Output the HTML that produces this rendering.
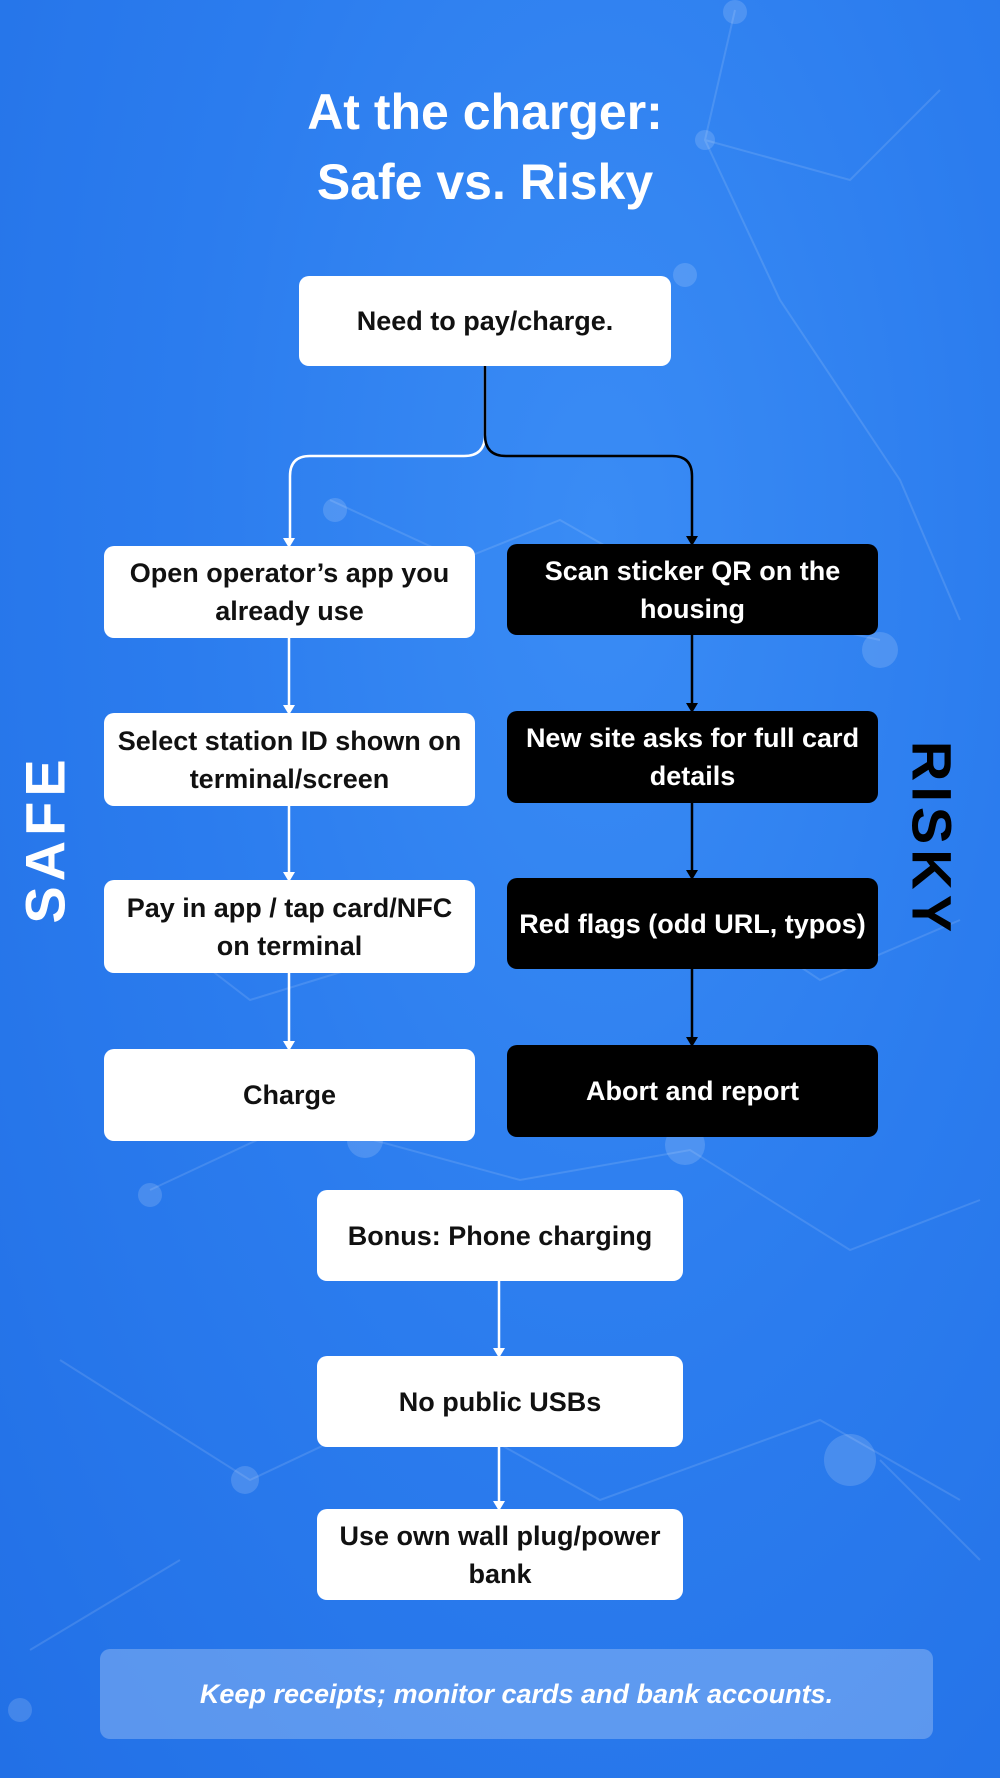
<!DOCTYPE html>
<html><head><meta charset="utf-8"><style>
body{margin:0;width:1000px;height:1778px;overflow:hidden;font-family:"Liberation Sans",sans-serif;}
.bg{position:absolute;left:0;top:0;width:1000px;height:1778px;background:radial-gradient(ellipse at 60% 30%,#3a8cf5 0%,#2b7cee 50%,#2270e6 100%);}
.t{position:absolute;left:0;width:970px;text-align:center;color:#fff;font-weight:bold;font-size:50px;}
.b{position:absolute;display:flex;align-items:center;justify-content:center;text-align:center;font-weight:bold;font-size:27px;line-height:38px;border-radius:10px;box-sizing:border-box;padding:0 6px;}
.w{background:#fff;color:#111;}
.k{background:#000;color:#fff;}
.v{position:absolute;color:#fff;font-weight:bold;font-size:56px;letter-spacing:5px;white-space:nowrap;}
</style></head><body>
<div class="bg"></div>
<svg style="position:absolute;left:0;top:0" width="1000" height="1778">
<g stroke="#ffffff" stroke-opacity="0.12" stroke-width="2" fill="none">
<path d="M735 10 L705 140 L780 300 L900 480 L960 620 M705 140 L850 180 L940 90 M330 500 L460 560 L560 520 L700 600 L880 640 M150 1190 L300 1120 L520 1180 L690 1150 L850 1250 L980 1200 M60 1360 L250 1480 L420 1400 L600 1500 L820 1420 L960 1500 M30 1650 L180 1560 M880 1460 L980 1560 M120 900 L250 1000 L380 960 M700 900 L820 980 L960 920"/>
</g>
<g fill="#ffffff" fill-opacity="0.15"><circle cx="735" cy="12" r="12"/><circle cx="705" cy="140" r="10"/><circle cx="685" cy="275" r="12"/><circle cx="880" cy="650" r="18"/><circle cx="150" cy="1195" r="12"/><circle cx="365" cy="1140" r="18"/><circle cx="850" cy="1460" r="26"/><circle cx="245" cy="1480" r="14"/><circle cx="685" cy="1145" r="20"/><circle cx="20" cy="1710" r="12"/><circle cx="335" cy="510" r="12"/></g>
<g stroke="#fff" stroke-width="2.5" fill="none">
<path d="M485 366 V435 Q485 456 464 456 H310 Q290 456 290 476 V540"/>
<path d="M289 638 V707 M289 806 V874 M289 973 V1043 M499 1281 V1350 M499 1447 V1503"/>
</g>
<g fill="#fff"><path d="M283 538 L289 548 L295 538Z M283 705 L289 715 L295 705Z M283 872 L289 882 L295 872Z M283 1041 L289 1051 L295 1041Z M493 1348 L499 1358 L505 1348Z M493 1501 L499 1511 L505 1501Z"/></g>
<g stroke="#000" stroke-width="2.5" fill="none">
<path d="M485 366 V435 Q485 456 506 456 H672 Q692 456 692 476 V538"/>
<path d="M692 635 V705 M692 803 V872 M692 969 V1039"/>
</g>
<g fill="#000"><path d="M686 536 L692 546 L698 536Z M686 703 L692 713 L698 703Z M686 870 L692 880 L698 870Z M686 1037 L692 1047 L698 1037Z"/></g>
</svg>
<div class="t" style="top:83px">At the charger:</div>
<div class="t" style="top:153px">Safe vs. Risky</div>
<div class="b w" style="left:299px;top:276px;width:372px;height:90px">Need to pay/charge.</div>
<div class="b w" style="left:104px;top:546px;width:371px;height:92px">Open operator’s app you already use</div>
<div class="b w" style="left:104px;top:713px;width:371px;height:93px">Select station ID shown on terminal/screen</div>
<div class="b w" style="left:104px;top:880px;width:371px;height:93px">Pay in app / tap card/NFC on terminal</div>
<div class="b w" style="left:104px;top:1049px;width:371px;height:92px">Charge</div>
<div class="b k" style="left:507px;top:544px;width:371px;height:91px">Scan sticker QR on the housing</div>
<div class="b k" style="left:507px;top:711px;width:371px;height:92px">New site asks for full card details</div>
<div class="b k" style="left:507px;top:878px;width:371px;height:91px">Red flags (odd URL, typos)</div>
<div class="b k" style="left:507px;top:1045px;width:371px;height:92px">Abort and report</div>
<div class="b w" style="left:317px;top:1190px;width:366px;height:91px">Bonus: Phone charging</div>
<div class="b w" style="left:317px;top:1356px;width:366px;height:91px">No public USBs</div>
<div class="b w" style="left:317px;top:1509px;width:366px;height:91px">Use own wall plug/power bank</div>
<div class="b" style="left:100px;top:1649px;width:833px;height:90px;background:rgba(255,255,255,0.25);color:#fff;font-style:italic;font-size:27px">Keep receipts; monitor cards and bank accounts.</div>
<div class="v" style="left:45px;top:839px;transform:translate(-50%,-50%) rotate(-90deg)">SAFE</div>
<div class="v" style="left:932px;top:839px;transform:translate(-50%,-50%) rotate(90deg);color:#000">RISKY</div>
</body></html>
